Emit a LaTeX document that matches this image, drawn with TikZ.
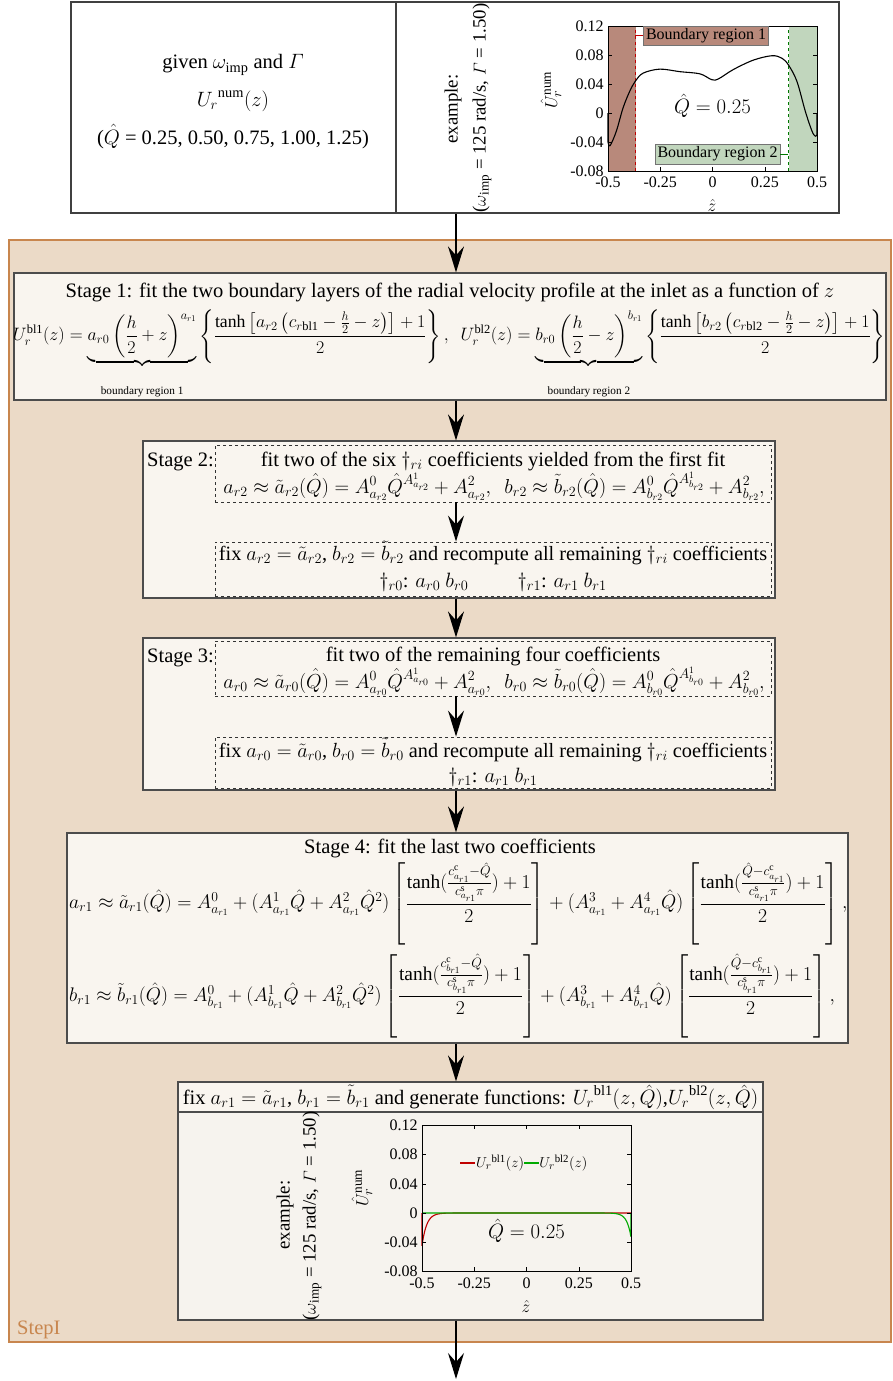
\documentclass[tikz,border=0pt]{standalone}
\usepackage{amsmath}
\usepackage{graphicx}
\usepackage{fontspec}
\setmainfont{Liberation Serif}
\usetikzlibrary{arrows.meta,positioning}

\definecolor{stepfill}{HTML}{EBDAC7}
\definecolor{stepline}{HTML}{C8864E}
\definecolor{boxfill}{HTML}{F9F5EF}
\definecolor{plotfill}{HTML}{F6F3EE}
\definecolor{regionone}{HTML}{B8897B}
\definecolor{regiontwo}{HTML}{C1D6BD}
\definecolor{lineone}{HTML}{C00000}
\definecolor{linetwo}{HTML}{00AA00}

\tikzset{
  stagebox/.style={draw=black!70, fill=boxfill, line width=1.2pt, inner sep=0pt},
  dashbox/.style={draw=black!80, dashed, line width=0.9pt, inner sep=0pt},
  flow/.style={line width=1.4pt, -{Stealth[length=26pt,width=16pt,inset=9pt]}},
  ticklab/.style={font=\fontsize{16}{18}\selectfont},
  regionlab/.style={draw=black!55, font=\fontsize{16}{18}\selectfont, inner sep=2.5pt},
  sidelab/.style={rotate=90, font=\fontsize{18.8}{22}\selectfont},
}
\newcommand{\tbracket}[1]{\left[\rule[-1.4em]{0pt}{3.3em}#1\right]}
\newcommand{\bracelab}[1]{\text{\rule{0pt}{30pt}\fontsize{13}{15}\selectfont #1}}

\begin{document}
\begin{tikzpicture}[x=1pt, y=-1pt, every node/.style={font=\fontsize{20.5}{24}\selectfont, inner sep=0pt}]
\useasboundingbox (0,0) rectangle (893,1381);

% StepI frame
\node[draw=stepline, fill=stepfill, line width=2.5pt, minimum width=882pt, minimum height=1102pt] (stepI) at (450,791) {};
\node[anchor=base west, text=stepline] (steplabel) at (17,1334) {StepI};

% input box
\node[draw=black!75, fill=white, line width=1.2pt, minimum width=768pt, minimum height=211pt] (given) at (455,107.5) {};
\draw[line width=1.2pt, black!75] (396,2) -- (396,213);
\node[anchor=base] (givenA) at (233,69) {given $\omega_{\mathrm{imp}}$ and $\varGamma$};
\node[anchor=base] (givenB) at (233,106) {${U_r}^{\mathrm{num}}(z)$};
\node[anchor=base] (givenC) at (233,144) {($\hat{Q}$ = 0.25, 0.50, 0.75, 1.00, 1.25)};
\node[sidelab] (exA) at (453,109) {example:};
\node[sidelab] (exB) at (482,108) {($\omega_{\mathrm{imp}}$ = 125 rad/s, $\varGamma$ = 1.50)};

% numerical profile
\begin{scope}[shift={(712.5,113)}, x=209pt, y=725pt]
  \fill[regionone] (-0.5,-0.08) rectangle (-0.368,0.12);
  \fill[regiontwo] (0.364,-0.08) rectangle (0.5,0.12);
  \draw[lineone, dashed, line width=0.8pt] (-0.368,-0.08) -- (-0.368,0.12);
  \draw[linetwo!70!black, dashed, line width=0.8pt] (0.364,-0.08) -- (0.364,0.12);
  \draw[line width=1.1pt] (-0.5,0) -- (-0.5,-0.04)
    plot[smooth, tension=0.55] coordinates {(-0.5,-0.04) (-0.49,-0.045) (-0.46,-0.025) (-0.428,0.007) (-0.396,0.030) (-0.369,0.044) (-0.332,0.055) (-0.252,0.0605) (-0.156,0.057) (-0.06,0.054) (-0.004,0.046) (0.028,0.047) (0.1,0.060) (0.196,0.073) (0.284,0.079) (0.332,0.0756) (0.364,0.066) (0.404,0.0436) (0.444,0.0024) (0.476,-0.025) (0.492,-0.032) (0.5,-0.030)}
    -- (0.5,0);
  \draw[line width=0.8pt] (-0.5,-0.08) rectangle (0.5,0.12);
  \foreach \val in {-0.08,-0.04,0,0.04,0.08,0.12} {
    \draw (-0.5,\val) -- ++(4pt,0) (0.5,\val) -- ++(-4pt,0);
    \node[ticklab, anchor=east] at (-0.52,\val) {\val};
  }
  \foreach \val in {-0.5,-0.25,0,0.25,0.5} {
    \draw (\val,-0.08) -- ++(0,4pt) (\val,0.12) -- ++(0,-4pt);
    \node[ticklab, anchor=north] at (\val,-0.088) {\val};
  }
  \node (qone) at (0,0.01) {$\hat{Q} = 0.25$};
\end{scope}
\node[regionlab, fill=regionone] (regA) at (706,35.5) {Boundary region 1};
\draw[lineone] (regA.west) -- ++(-8,0);
\node[regionlab, fill=regiontwo] (regB) at (717.5,154) {Boundary region 2};
\draw[linetwo!70!black] (regB.east) -- ++(8,0);
\node[rotate=90, font=\fontsize{19}{21}\selectfont] (ylabA) at (551,90) {${\hat{U}_r}^{\mathrm{num}}$};
\node[font=\fontsize{18}{20}\selectfont] (xlabA) at (712,205) {$\hat{z}$};

% Stage 1
\node[stagebox, minimum width=872pt, minimum height=127pt] (stage1) at (450,336.5) {};
\node[anchor=base] (s1title) at (450,297) {Stage 1: fit the two boundary layers of the radial velocity profile at the inlet as a function of $z$};
\node (s1eq) at (449,354) {\resizebox{872pt}{!}{$\displaystyle U_r^{\mathrm{bl1}}(z) = \underbrace{a_{r0}\left(\dfrac{h}{2}+z\right)^{a_{r1}}}_{\bracelab{boundary region 1}} \left\{\dfrac{\tanh\left[a_{r2}\left(c_{r\mathrm{bl1}}-\frac{h}{2}-z\right)\right]+1}{2}\right\},\ \ U_r^{\mathrm{bl2}}(z) = \underbrace{b_{r0}\left(\dfrac{h}{2}-z\right)^{b_{r1}}}_{\bracelab{boundary region 2}} \left\{\dfrac{\tanh\left[b_{r2}\left(c_{r\mathrm{bl2}}-\frac{h}{2}-z\right)\right]+1}{2}\right\}$}};

% Stage 2
\node[stagebox, minimum width=632pt, minimum height=157pt] (stage2) at (459,519.5) {};
\node[anchor=base west] (s2name) at (147,466) {Stage 2:};
\node[dashbox, minimum width=556pt, minimum height=57pt] (s2fit) at (493,473.5) {};
\node[anchor=base] (s2fitA) at (493,466) {fit two of the six $\dagger_{ri}$ coefficients yielded from the first fit};
\node[anchor=base] (s2fitB) at (494,493) {\scalebox{0.975}{$a_{r2} \approx \tilde{a}_{r2}(\hat{Q}) = A^0_{a_{r2}}\hat{Q}^{A^1_{a_{r2}}} + A^2_{a_{r2}},\ \ b_{r2} \approx \tilde{b}_{r2}(\hat{Q}) = A^0_{b_{r2}}\hat{Q}^{A^1_{b_{r2}}} + A^2_{b_{r2}},$}};
\node[dashbox, minimum width=556pt, minimum height=54pt] (s2fix) at (493,569) {};
\node[anchor=base] (s2fixA) at (493,560) {\scalebox{0.99}{fix $a_{r2} = \tilde{a}_{r2}$, $b_{r2} = \tilde{b}_{r2}$ and recompute all remaining $\dagger_{ri}$ coefficients}};
\node[anchor=base] (s2fixB) at (493,587) {$\dagger_{r0}$: $a_{r0}\ b_{r0}$\hspace{2.4em}$\dagger_{r1}$: $a_{r1}\ b_{r1}$};

% Stage 3
\node[stagebox, minimum width=632pt, minimum height=152pt] (stage3) at (459,714) {};
\node[anchor=base west] (s3name) at (147,662) {Stage 3:};
\node[dashbox, minimum width=556pt, minimum height=55pt] (s3fit) at (493,668.5) {};
\node[anchor=base] (s3fitA) at (493,661) {fit two of the remaining four coefficients};
\node[anchor=base] (s3fitB) at (494,688) {\scalebox{0.975}{$a_{r0} \approx \tilde{a}_{r0}(\hat{Q}) = A^0_{a_{r0}}\hat{Q}^{A^1_{a_{r0}}} + A^2_{a_{r0}},\ \ b_{r0} \approx \tilde{b}_{r0}(\hat{Q}) = A^0_{b_{r0}}\hat{Q}^{A^1_{b_{r0}}} + A^2_{b_{r0}},$}};
\node[dashbox, minimum width=556pt, minimum height=51pt] (s3fix) at (493,762.5) {};
\node[anchor=base] (s3fixA) at (493,757) {\scalebox{0.99}{fix $a_{r0} = \tilde{a}_{r0}$, $b_{r0} = \tilde{b}_{r0}$ and recompute all remaining $\dagger_{ri}$ coefficients}};
\node[anchor=base] (s3fixB) at (493,782) {$\dagger_{r1}$: $a_{r1}\ b_{r1}$};

% Stage 4
\node[stagebox, minimum width=781pt, minimum height=210pt] (stage4) at (457.5,938) {};
\node[anchor=base] (s4title) at (450,853) {Stage 4: fit the last two coefficients};
\node[anchor=west] (s4a) at (69,904) {\scalebox{0.948}{$a_{r1} \approx \tilde{a}_{r1}(\hat{Q}) = A^0_{a_{r1}} + (A^1_{a_{r1}}\hat{Q} + A^2_{a_{r1}}\hat{Q}^2)\tbracket{\dfrac{\tanh(\frac{c^{\mathrm{c}}_{a_{r1}}-\hat{Q}}{c^{\mathrm{s}}_{a_{r1}}\pi})+1}{2}} + (A^3_{a_{r1}} + A^4_{a_{r1}}\hat{Q})\tbracket{\dfrac{\tanh(\frac{\hat{Q}-c^{\mathrm{c}}_{a_{r1}}}{c^{\mathrm{s}}_{a_{r1}}\pi})+1}{2}},$}};
\node[anchor=west] (s4b) at (69,996) {\scalebox{0.948}{$b_{r1} \approx \tilde{b}_{r1}(\hat{Q}) = A^0_{b_{r1}} + (A^1_{b_{r1}}\hat{Q} + A^2_{b_{r1}}\hat{Q}^2)\tbracket{\dfrac{\tanh(\frac{c^{\mathrm{c}}_{b_{r1}}-\hat{Q}}{c^{\mathrm{s}}_{b_{r1}}\pi})+1}{2}} + (A^3_{b_{r1}} + A^4_{b_{r1}}\hat{Q})\tbracket{\dfrac{\tanh(\frac{\hat{Q}-c^{\mathrm{c}}_{b_{r1}}}{c^{\mathrm{s}}_{b_{r1}}\pi})+1}{2}},$}};

% generated functions
\node[stagebox, fill=plotfill, minimum width=585pt, minimum height=238pt] (final) at (470.5,1201) {};
\node[stagebox, minimum width=585pt, minimum height=30pt, anchor=north] (finalhead) at (final.north) {};
\node (finaltext) at (finalhead.center) {fix $a_{r1} = \tilde{a}_{r1}$, $b_{r1} = \tilde{b}_{r1}$ and generate functions: ${U_r}^{\mathrm{bl1}}(z,\hat{Q})$,${U_r}^{\mathrm{bl2}}(z,\hat{Q})$};
\node[sidelab] (exC) at (285,1215) {example:};
\node[sidelab] (exD) at (312,1216) {($\omega_{\mathrm{imp}}$ = 125 rad/s, $\varGamma$ = 1.50)};
\begin{scope}[shift={(526.5,1213)}, x=209pt, y=730pt]
  \draw[lineone, line width=1.1pt] (-0.5,0) -- (-0.5,-0.045)
    plot[domain=-0.5:-0.3, samples=50] (\x,{-0.045*exp(-(\x+0.5)/0.022)}) -- (0.5,0);
  \draw[linetwo, line width=1.1pt] (-0.5,0) -- (0.3,0)
    plot[domain=0.3:0.5, samples=50] (\x,{-0.033*exp(-(0.5-\x)/0.02)}) -- (0.5,0);
  \draw[line width=0.8pt] (-0.5,-0.08) rectangle (0.5,0.12);
  \foreach \val in {-0.08,-0.04,0,0.04,0.08,0.12} {
    \draw (-0.5,\val) -- ++(4pt,0) (0.5,\val) -- ++(-4pt,0);
    \node[ticklab, anchor=east] at (-0.52,\val) {\val};
  }
  \foreach \val in {-0.5,-0.25,0,0.25,0.5} {
    \draw (\val,-0.08) -- ++(0,4pt) (\val,0.12) -- ++(0,-4pt);
    \node[ticklab, anchor=north] at (\val,-0.088) {\val};
  }
  \node (qtwo) at (0,-0.024) {$\hat{Q} = 0.25$};
\end{scope}
\draw[lineone, line width=1.1pt] (460,1163) -- (475,1163);
\node[anchor=west, font=\fontsize{15.5}{17}\selectfont] (legA) at (476,1163) {${U_r}^{\mathrm{bl1}}(z)$};
\draw[linetwo, line width=1.1pt] (legA.east) -- ++(15,0) coordinate (legmid);
\node[anchor=west, font=\fontsize{15.5}{17}\selectfont] (legB) at (legmid) {${U_r}^{\mathrm{bl2}}(z)$};
\node[rotate=90, font=\fontsize{19}{21}\selectfont] (ylabB) at (362,1188) {${\hat{U}_r}^{\mathrm{num}}$};
\node[font=\fontsize{18}{20}\selectfont] (xlabB) at (526,1306) {$\hat{z}$};

% flow
\coordinate (spine) at (456,0);
\coordinate (exit) at (456,1379);
\draw[flow] (given.south -| spine) -- (stage1.north -| spine);
\draw[flow] (stage1.south -| spine) -- (stage2.north -| spine);
\draw[flow] (s2fit.south -| spine) -- (s2fix.north -| spine);
\draw[flow] (stage2.south -| spine) -- (stage3.north -| spine);
\draw[flow] (s3fit.south -| spine) -- (s3fix.north -| spine);
\draw[flow] (stage3.south -| spine) -- (stage4.north -| spine);
\draw[flow] (stage4.south -| spine) -- (final.north -| spine);
\draw[flow] (final.south -| spine) -- (exit);

\end{tikzpicture}
\end{document}
